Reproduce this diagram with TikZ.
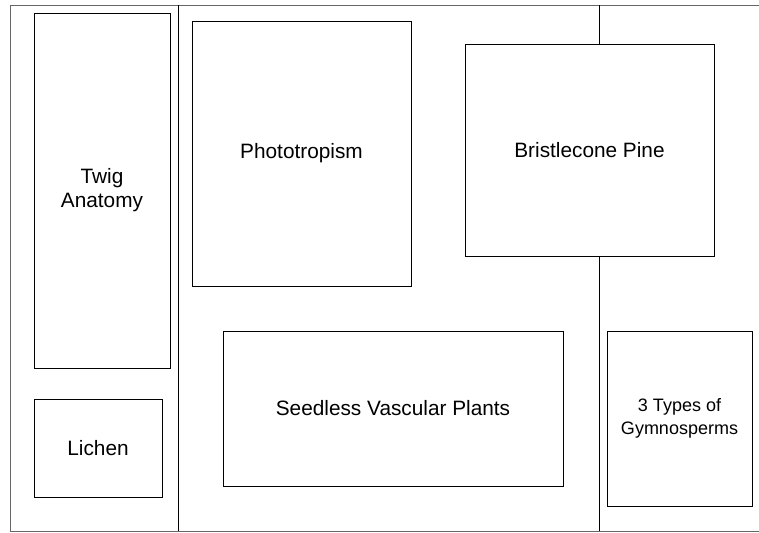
\documentclass[tikz,border=0pt]{standalone}
\usepackage{fontspec}
\setmainfont{Liberation Sans}
\usetikzlibrary{positioning,calc}

\tikzset{
  topic/.style={draw,line width=0.8pt,align=center,inner sep=0pt,
    font=\fontsize{20.8}{24}\selectfont},
  divider/.style={line width=0.8pt},
}

\begin{document}
\begin{tikzpicture}[x=1pt,y=-1pt]
\useasboundingbox (0,0) rectangle (759,532);
\clip (0,0) rectangle (759,532);
% outer frame, open to the right
\draw[divider,black!60] (10,5) rectangle (775,531);
\coordinate (midtop) at (178,5);
\coordinate (midbot) at (178,531);
\coordinate (righttop) at (599,5);
\coordinate (rightbot) at (599,531);
\draw[divider] (midtop)--(midbot);

% left column
\node[topic,minimum width=136pt,minimum height=355pt] (twig) at (102,190.5) {Twig\\Anatomy};
\node[topic,minimum width=128pt,minimum height=98pt] (lichen) at (98,448) {Lichen};

% middle
\node[topic,minimum width=219pt,minimum height=265pt] (photo) at (301.5,153.5) {Phototropism};
\node[topic,minimum width=249pt,minimum height=212pt] (pine) at (589.5,150) {Bristlecone Pine};
\node[topic,minimum width=340pt,minimum height=155pt] (seedless) at (393,408.5) {Seedless Vascular Plants};

% right column
\node[topic,minimum width=145pt,minimum height=175pt,
  font=\fontsize{18}{23}\selectfont] (gymno) at (679.5,418.5) {3 Types of\\Gymnosperms};

\draw[divider] (righttop)--(righttop |- pine.north);
\draw[divider] (righttop |- pine.south)--(rightbot);
\end{tikzpicture}
\end{document}
